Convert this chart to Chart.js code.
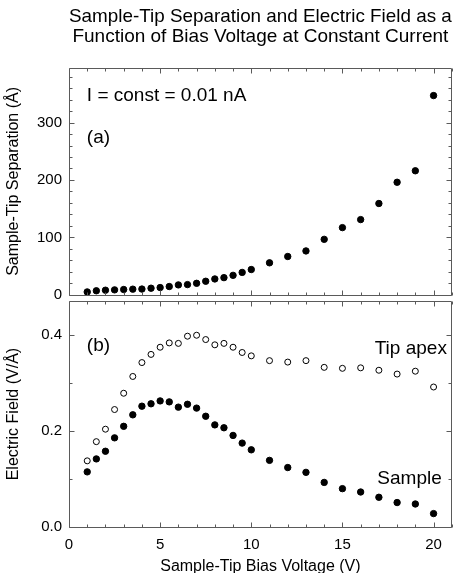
<!DOCTYPE html>
<html>
<head>
<meta charset="utf-8">
<script src="https://cdn.jsdelivr.net/npm/chart.js@4/dist/chart.umd.min.js"></script>
<style>
  html, body { margin: 0; padding: 0; background: #fff; overflow: hidden; }
  #wrap { position: relative; width: 456px; height: 573px; }
  canvas { position: absolute; left: 0; }
</style>
</head>
<body>
<div id="wrap">
  <canvas id="chartTop" width="456" height="299" style="top:0px"></canvas>
  <canvas id="chartBottom" width="456" height="283" style="top:297px"></canvas>
</div>
<script>
// data
const biasVoltage = [1, 1.5, 2, 2.5, 3, 3.5, 4, 4.5, 5, 5.5, 6, 6.5, 7, 7.5, 8, 8.5, 9, 9.5, 10,
                     11, 12, 13, 14, 15, 16, 17, 18, 19, 20];
const separation  = [5, 7, 8, 8.6, 9.2, 9.8, 10, 11.5, 12.6, 14.4, 17.2, 17.8, 20, 23.6, 27.6, 29.9, 33.9, 39, 44,
                     55.7, 66.7, 76.4, 96.6, 117, 131, 159, 196, 216, 347];
const fieldTip    = [0.138, 0.178, 0.204, 0.245, 0.279, 0.314, 0.343, 0.360, 0.375, 0.384, 0.383, 0.398, 0.400, 0.391, 0.380, 0.383, 0.375, 0.364, 0.357,
                     0.347, 0.344, 0.347, 0.333, 0.331, 0.332, 0.327, 0.319, 0.325, 0.292];
const fieldSample = [0.115, 0.142, 0.158, 0.186, 0.210, 0.234, 0.252, 0.257, 0.263, 0.261, 0.250, 0.256, 0.248, 0.231, 0.213, 0.207, 0.191, 0.175, 0.161,
                     0.139, 0.124, 0.114, 0.093, 0.080, 0.073, 0.062, 0.051, 0.048, 0.028];

// tick labels
const xTicks = [0, 5, 10, 15, 20];
const sepTicks = [0, 100, 200, 300];
const fieldTicks = [0, 0.2, 0.4];

const FONT = "'Liberation Sans', Arial, Helvetica, sans-serif";

function toPoints(ys) {
  return biasVoltage.map((v, i) => ({x: v, y: ys[i]}));
}

// labels sit inside the frame, so the scales need no extra edge padding
function noEdgePadding(s) {
  s.paddingTop = 0; s.paddingBottom = 0;
  s.paddingLeft = 0; s.paddingRight = 0;
}

/* frame box with inward ticks on all four sides, plus text labels */
const framePlugin = {
  id: 'frame',
  afterDatasetsDraw(chart, args, opts) {
    const {ctx, chartArea: a} = chart;
    const xs = chart.scales.x, ys = chart.scales.y;
    const L = Math.round(a.left) + 0.5, R = Math.round(a.right) - 0.5;
    const T = Math.round(a.top) + 0.5, B = Math.round(a.bottom) + 0.5;
    ctx.save();
    ctx.strokeStyle = '#5a5a5a';
    ctx.lineWidth = 1;
    ctx.beginPath();
    ctx.moveTo(L, T); ctx.lineTo(R, T); ctx.lineTo(R, B); ctx.lineTo(L, B); ctx.closePath();

    // x ticks
    for (let i = 0; i * opts.xMinor <= xs.max + 1e-9; i++) {
      const v = i * opts.xMinor;
      const len = (i % opts.xEvery === 0) ? 5 : 3;
      const px = Math.round(xs.getPixelForValue(v)) + 0.5;
      ctx.moveTo(px, B); ctx.lineTo(px, B - len);
      ctx.moveTo(px, T); ctx.lineTo(px, T + len);
    }
    // y ticks
    for (let i = 0; i * opts.yMinor <= ys.max + 1e-9; i++) {
      const v = i * opts.yMinor;
      const len = (i % opts.yEvery === 0) ? 5 : 3;
      const py = Math.round(ys.getPixelForValue(v)) + 0.5;
      ctx.moveTo(L, py); ctx.lineTo(L + len, py);
      ctx.moveTo(R, py); ctx.lineTo(R - len, py);
    }
    ctx.stroke();

    ctx.fillStyle = '#000';
    ctx.font = '19px ' + FONT;
    ctx.textBaseline = 'middle';
    (opts.labels || []).forEach(l => {
      ctx.textAlign = l.align;
      ctx.fillText(l.text, xs.getPixelForValue(l.x), ys.getPixelForValue(l.y));
    });
    ctx.restore();
  }
};

const filledStyle = {
  pointRadius: 3.2, pointHoverRadius: 3.2, pointBorderWidth: 1,
  pointBackgroundColor: '#000', pointBorderColor: '#000', showLine: false, clip: false
};
const hollowStyle = {
  pointRadius: 3, pointHoverRadius: 3, pointBorderWidth: 1,
  pointBackgroundColor: '#fff', pointBorderColor: '#000', showLine: false, clip: false
};

function yAxis(min, max, ticks, title, fmt) {
  return {
    type: 'linear', position: 'left', min: min, max: max,
    afterBuildTicks: s => { s.ticks = ticks.map(v => ({value: v})); },
    afterFit: s => { s.width = 69; noEdgePadding(s); },
    grid: {display: false, drawTicks: false},
    border: {display: false},
    ticks: {color: '#000', font: {family: FONT, size: 15}, padding: 7, callback: fmt},
    title: {display: true, text: title, color: '#000', font: {family: FONT, size: 16}, padding: {top: 4, bottom: 0}}
  };
}

Chart.defaults.animation = false;

// panel (a)
new Chart(document.getElementById('chartTop'), {
  type: 'scatter',
  data: {datasets: [Object.assign({data: toPoints(separation)}, filledStyle)]},
  options: {
    responsive: false,
    events: [],
    layout: {padding: {left: 0, right: 3, top: 0, bottom: 1}},
    plugins: {
      legend: {display: false},
      tooltip: {enabled: false},
      title: {
        display: true, fullSize: false, color: '#000',
        text: ['Sample-Tip Separation and Electric Field as a', 'Function of Bias Voltage at Constant Current'],
        font: {family: FONT, size: 19, weight: 'normal', lineHeight: 20 / 19},
        padding: {top: 7, bottom: 21}
      },
      frame: {
        xMinor: 1, xEvery: 5, yMinor: 20, yEvery: 5,
        labels: [
          {text: 'I = const = 0.01 nA', x: 0.98, y: 347, align: 'left'},
          {text: '(a)', x: 0.98, y: 274, align: 'left'}
        ]
      }
    },
    scales: {
      x: {type: 'linear', min: 0, max: 21, display: false},
      y: yAxis(0, 395, sepTicks, 'Sample-Tip Separation (Å)', v => String(v))
    }
  },
  plugins: [framePlugin]
});

// panel (b)
new Chart(document.getElementById('chartBottom'), {
  type: 'scatter',
  data: {datasets: [
    Object.assign({data: toPoints(fieldTip)}, hollowStyle),
    Object.assign({data: toPoints(fieldSample)}, filledStyle)
  ]},
  options: {
    responsive: false,
    events: [],
    layout: {padding: {left: 0, right: 3, top: 1, bottom: 0}},
    plugins: {
      legend: {display: false},
      tooltip: {enabled: false},
      frame: {
        xMinor: 1, xEvery: 5, yMinor: 0.1, yEvery: 2,
        labels: [
          {text: '(b)', x: 0.98, y: 0.379, align: 'left'},
          {text: 'Tip apex', x: 20.73, y: 0.371, align: 'right'},
          {text: 'Sample', x: 20.45, y: 0.101, align: 'right'}
        ]
      }
    },
    scales: {
      x: {
        type: 'linear', min: 0, max: 21,
        afterBuildTicks: s => { s.ticks = xTicks.map(v => ({value: v})); },
        afterFit: s => { s.height = 53; noEdgePadding(s); },
        grid: {display: false, drawTicks: false},
        border: {display: false},
        ticks: {color: '#000', font: {family: FONT, size: 15}, padding: 9, maxRotation: 0},
        title: {display: true, text: 'Sample-Tip Bias Voltage (V)', color: '#000', font: {family: FONT, size: 16}, padding: {top: 0, bottom: 4}}
      },
      y: yAxis(0, 0.471, fieldTicks, 'Electric Field (V/Å)', v => v.toFixed(1))
    }
  },
  plugins: [framePlugin]
});
</script>
</body>
</html>
